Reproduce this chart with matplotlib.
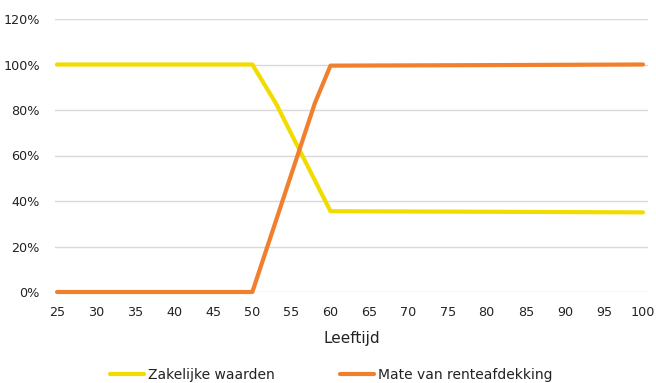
import matplotlib
matplotlib.use("Agg")
import matplotlib.pyplot as plt
from matplotlib.ticker import FuncFormatter

plt.rcParams['font.family'] = ['DejaVu Sans']

# leeftijd / percentage punten
leeftijd_zakelijk = [25, 50, 53, 60, 78, 100]
zakelijk = [100, 100, 83, 35.5, 35.3, 35]
leeftijd_rente = [25, 50, 58, 60, 78, 100]
rente = [0, 0, 83, 99.5, 99.7, 100]

x_ticks = list(range(25, 101, 5))
y_ticks = [0, 20, 40, 60, 80, 100, 120]

geel = '#F2DC00'
oranje = '#F07F2E'

fig = plt.figure(figsize=(6.56, 3.83), dpi=100)
ax = fig.add_axes([55/656, 91/383, 593/656, 273/383])

ax.plot(leeftijd_zakelijk, zakelijk, color=geel, lw=3, label="Zakelijke waarden",
        solid_capstyle='round', zorder=3, clip_on=False)
ax.plot(leeftijd_rente, rente, color=oranje, lw=3, label="Mate van renteafdekking",
        solid_capstyle='round', zorder=3, clip_on=False)

ax.set_xlim(24.74, 100.64)
ax.set_ylim(0, 120)
ax.set_xticks(x_ticks)
ax.set_yticks(y_ticks)
ax.yaxis.set_major_formatter(FuncFormatter(lambda v, p: f"{v:.0f}%"))
ax.tick_params(length=0, labelsize=9.2, colors='#222222')
ax.tick_params(axis='x', pad=10)
ax.tick_params(axis='y', pad=11)
ax.grid(axis='y', color='#d9d9d9', lw=1)
ax.set_axisbelow(True)
for s in ax.spines.values():
    s.set_visible(False)

ax.set_xlabel("Leeftijd", fontsize=11, color='#222222', labelpad=9)

leg = fig.legend(loc='center', bbox_to_anchor=(331/656, 1 - 375/383), ncol=2, frameon=False,
                 fontsize=10, handlelength=2.5, columnspacing=4.7, handletextpad=0.25)
for t in leg.get_texts():
    t.set_color('#222222')

fig.savefig("out.png", dpi=100)
